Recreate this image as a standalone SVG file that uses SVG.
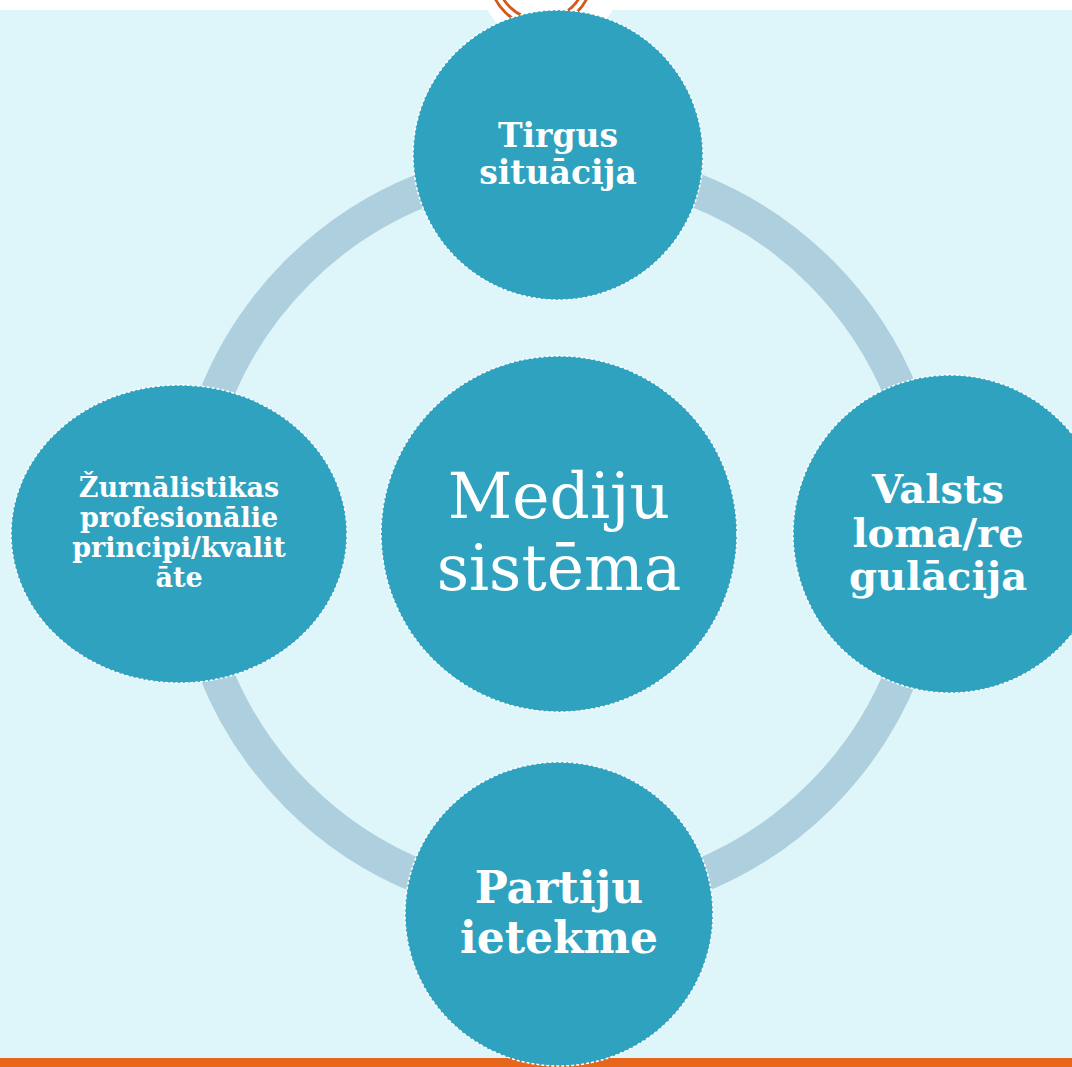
<svg xmlns="http://www.w3.org/2000/svg" width="1072" height="1067" viewBox="0 0 1072 1067">
<style>
.node{fill:#2ea2bf;stroke:#ffffff;stroke-width:1.5;stroke-dasharray:3 2}
.lbl{font-family:"DejaVu Serif","Liberation Serif",serif;font-weight:bold;fill:#ffffff;text-anchor:middle}
.main{font-family:"DejaVu Serif","Liberation Serif",serif;fill:#ffffff;text-anchor:middle}
.ring{fill:none;stroke:#d4581a;stroke-width:2.8}
</style>
<rect x="0" y="0" width="1072" height="1067" fill="#ffffff"/>
<rect x="0" y="10" width="1072" height="1048" fill="#def5f9"/>
<rect x="0" y="1058" width="1072" height="9" fill="#e8651c"/>
<g id="decoration">
<circle cx="550" cy="-24" r="71" fill="#ffffff"/>
<circle class="ring" cx="541" cy="-24" r="44"/>
<circle class="ring" cx="541" cy="-24" r="51"/>
</g>
<g id="connectors">
<circle cx="559" cy="534" r="370" fill="none" stroke="#aecfdd" stroke-width="34"/>
</g>
<g id="node-top">
<circle class="node" cx="558" cy="155" r="145"/>
<text class="lbl" font-size="33"><tspan x="558" y="147">Tirgus</tspan><tspan x="558" y="184">situācija</tspan></text>
</g>
<g id="node-left">
<ellipse class="node" cx="179" cy="534" rx="168" ry="149"/>
<text class="lbl" font-size="27"><tspan x="179" y="497">Žurnālistikas</tspan><tspan x="179" y="527">profesionālie</tspan><tspan x="179" y="557">principi/kvalit</tspan><tspan x="179" y="587">āte</tspan></text>
</g>
<g id="node-right">
<ellipse class="node" cx="950" cy="534" rx="157" ry="159"/>
<text class="lbl" font-size="40"><tspan x="938" y="503">Valsts</tspan><tspan x="938" y="547">loma/re</tspan><tspan x="938" y="590">gulācija</tspan></text>
</g>
<g id="node-bottom">
<ellipse class="node" cx="559" cy="914" rx="154" ry="152"/>
<text class="lbl" font-size="44"><tspan x="559" y="903">Partiju</tspan><tspan x="559" y="953">ietekme</tspan></text>
</g>
<g id="node-center">
<circle class="node" cx="559" cy="534" r="178"/>
<text class="main" font-size="63"><tspan x="559" y="518">Mediju</tspan><tspan x="559" y="590">sistēma</tspan></text>
</g>
</svg>
